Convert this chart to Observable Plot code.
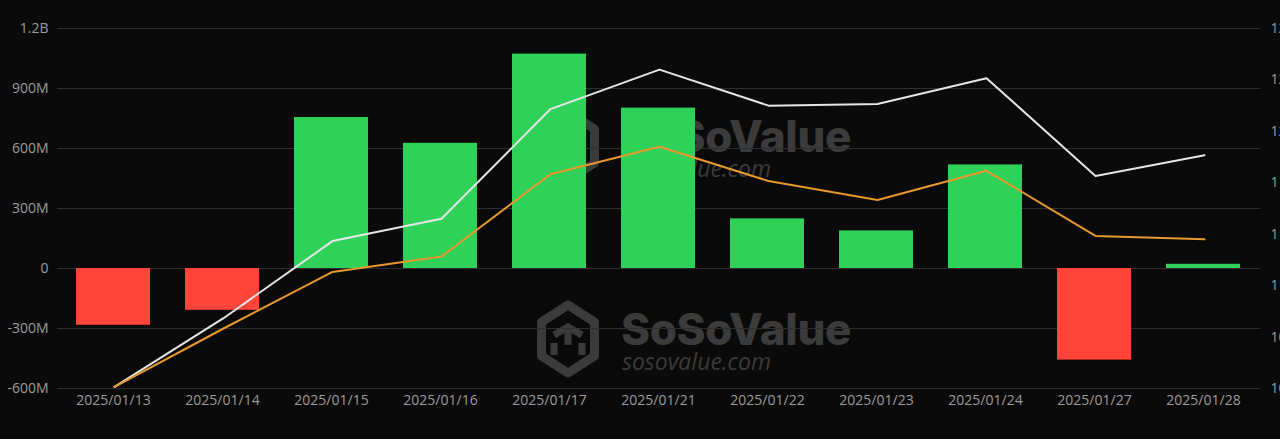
<!DOCTYPE html>
<html>
<head>
<meta charset="utf-8">
<script src="https://cdn.jsdelivr.net/npm/d3@7"></script>
<script src="https://cdn.jsdelivr.net/npm/@observablehq/plot@0.6"></script>
<style>
  html, body { margin: 0; padding: 0; background: #0a0a0a; overflow: hidden; }
  #wrap { position: relative; width: 1280px; height: 439px; background: #0a0a0a; }
  #wrap > svg, #wrap > div { position: absolute; left: 0; top: 0; }
  .wm-big { font-family: Inter, "Open Sans", sans-serif; font-weight: 800; font-size: 44px; fill: #3b3b3b; letter-spacing: -0.4px; }
  .wm-small { font-family: "Open Sans", sans-serif; font-style: italic; font-size: 23px; fill: #3b3b3b; }
</style>
</head>
<body>
<div id="wrap">
  <svg id="wm" width="1280" height="439" xmlns="http://www.w3.org/2000/svg">
    <g id="wm-lower"></g>
  </svg>
</div>
<script>
// ---------- data ----------
const dates = ["2025/01/13","2025/01/14","2025/01/15","2025/01/16","2025/01/17","2025/01/21","2025/01/22","2025/01/23","2025/01/24","2025/01/27","2025/01/28"];
const dailyNetInflow = [-284e6, -209e6, 755e6, 626e6, 1072e6, 802e6, 248e6, 188e6, 518e6, -458e6, 21e6];
const totalNetAssets = [105.1, 109.1, 113.6, 114.9, 121.3, 123.6, 121.5, 121.6, 123.1, 117.4, 118.6];
const secondLine     = [105.1, 108.5, 111.8, 112.7, 117.5, 119.1, 117.1, 116.0, 117.7, 113.9, 113.7];
const leftTicks  = [-600e6, -300e6, 0, 300e6, 600e6, 900e6, 1200e6];
const rightTicks = [105, 108, 111, 114, 117, 120, 123, 126];

const GREEN = "#30d158", RED = "#ff453a", WHITE = "#e6e6e6", ORANGE = "#e8982c";
const W = 1280, H = 439;
const margins = {marginLeft: 57, marginRight: 20, marginTop: 28, marginBottom: 51};
const baseStyle = {background: "transparent", color: "#9c9c9c", fontSize: "14px", fontFamily: "'Open Sans', sans-serif", overflow: "visible"};

const bars = dates.map((d, i) => ({date: d, v: dailyNetInflow[i]}));
const lines = dates.flatMap((d, i) => [
  {date: d, v: totalNetAssets[i], s: "a"},
  {date: d, v: secondLine[i], s: "b"}
]);

const fmtLeft = v => v === 0 ? "0" : Math.abs(v) >= 1e9 ? (v / 1e9) + "B" : (v / 1e6) + "M";

// ---------- watermark (background decoration) ----------
function addWatermark(g, dy) {
  const ns = "http://www.w3.org/2000/svg";
  const grp = document.createElementNS(ns, "g");
  grp.setAttribute("transform", `translate(0,${dy})`);
  const cx = 568, cy = 339, r = 34;
  const pts = d3.range(6).map(k => {
    const a = Math.PI / 3 * k - Math.PI / 2;
    return [cx + r * Math.cos(a) * 0.9, cy + r * Math.sin(a)];
  });
  const hex = document.createElementNS(ns, "polygon");
  hex.setAttribute("points", pts.map(p => p.join(",")).join(" "));
  hex.setAttribute("fill", "none");
  hex.setAttribute("stroke", "#3b3b3b");
  hex.setAttribute("stroke-width", "9");
  hex.setAttribute("stroke-linejoin", "round");
  grp.appendChild(hex);
  const inner = document.createElementNS(ns, "path");
  inner.setAttribute("d", `M${cx-14},${cy-4} L${cx},${cy-12} L${cx+14},${cy-4} M${cx},${cy-12} L${cx},${cy+6} M${cx-14},${cy+4} L${cx-14},${cy+16} M${cx+14},${cy+4} L${cx+14},${cy+16}`);
  inner.setAttribute("stroke", "#3b3b3b");
  inner.setAttribute("stroke-width", "7");
  inner.setAttribute("fill", "none");
  grp.appendChild(inner);
  const t1 = document.createElementNS(ns, "text");
  t1.setAttribute("x", 621); t1.setAttribute("y", 345);
  t1.setAttribute("class", "wm-big"); t1.textContent = "SoSoValue";
  grp.appendChild(t1);
  const t2 = document.createElementNS(ns, "text");
  t2.setAttribute("x", 622); t2.setAttribute("y", 370);
  t2.setAttribute("class", "wm-small"); t2.textContent = "sosovalue.com";
  grp.appendChild(t2);
  g.appendChild(grp);
}
const wm = document.getElementById("wm-lower");
addWatermark(wm, 0);
addWatermark(wm, -193);

// ---------- bars + left axis ----------
const barPlot = Plot.plot({
  width: W, height: H, ...margins,
  style: baseStyle,
  x: {type: "band", domain: dates, paddingInner: 0.32, paddingOuter: 0.16, label: null},
  y: {domain: [-600e6, 1200e6], label: null},
  marks: [
    Plot.gridY(leftTicks, {stroke: "#2e2e2e", strokeOpacity: 1, strokeWidth: 1}),
    Plot.barY(bars, {x: "date", y: "v", fill: d => d.v >= 0 ? GREEN : RED}),
    Plot.axisY(leftTicks, {anchor: "left", tickSize: 0, tickPadding: 9, tickFormat: fmtLeft, label: null}),
    Plot.axisX({tickSize: 0, tickPadding: 7, label: null})
  ]
});

// ---------- lines + right axis ----------
const linePlot = Plot.plot({
  width: W, height: H, ...margins,
  style: baseStyle,
  x: {type: "point", domain: dates, padding: 0.5, axis: null},
  y: {domain: [105, 126], label: null},
  color: {domain: ["a", "b"], range: [WHITE, ORANGE]},
  marks: [
    Plot.line(lines, {x: "date", y: "v", z: "s", stroke: "s", strokeWidth: 2}),
    Plot.axisY(rightTicks, {anchor: "right", tickSize: 0, tickPadding: 10, tickFormat: d => d + "B", label: null})
  ]
});

const wrap = document.getElementById("wrap");
wrap.appendChild(barPlot);
wrap.appendChild(linePlot);
</script>
</body>
</html>
